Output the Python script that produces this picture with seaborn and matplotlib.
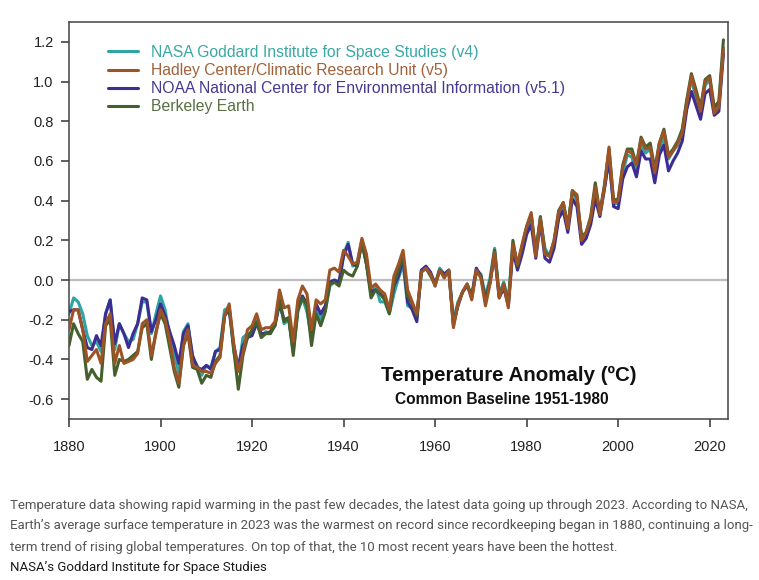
import numpy as np
import pandas as pd
import matplotlib
matplotlib.use("Agg")
import matplotlib.pyplot as plt
import seaborn as sns

years = list(range(1880, 2024))

nasa = [
    -0.17, -0.09, -0.11, -0.17, -0.28, -0.33, -0.31, -0.36, -0.17, -0.10,
    -0.35, -0.22, -0.27, -0.31, -0.30, -0.22, -0.11, -0.11, -0.27, -0.17,
    -0.08, -0.15, -0.28, -0.37, -0.47, -0.26, -0.22, -0.39, -0.43, -0.48,
    -0.43, -0.44, -0.36, -0.34, -0.15, -0.14, -0.36, -0.46, -0.29, -0.27,
    -0.27, -0.19, -0.28, -0.26, -0.27, -0.22, -0.10, -0.22, -0.20, -0.36,
    -0.16, -0.09, -0.16, -0.29, -0.13, -0.20, -0.15, -0.03, -0.01, -0.02,
    0.13, 0.19, 0.07, 0.09, 0.20, 0.09, -0.07, -0.03, -0.11, -0.11,
    -0.17, -0.07, 0.01, 0.08, -0.13, -0.14, -0.19, 0.05, 0.06, 0.03,
    -0.03, 0.06, 0.03, 0.05, -0.20, -0.11, -0.06, -0.02, -0.08, 0.05,
    0.03, -0.08, 0.01, 0.16, -0.07, -0.01, -0.10, 0.18, 0.07, 0.16,
    0.26, 0.32, 0.14, 0.31, 0.16, 0.12, 0.18, 0.32, 0.39, 0.27,
    0.45, 0.40, 0.22, 0.23, 0.31, 0.45, 0.33, 0.46, 0.61, 0.38,
    0.39, 0.54, 0.63, 0.62, 0.53, 0.68, 0.64, 0.66, 0.54, 0.65,
    0.72, 0.61, 0.65, 0.68, 0.75, 0.90, 1.01, 0.92, 0.85, 0.98,
    1.01, 0.85, 0.89, 1.17,
]

noaa = [
    -0.16, -0.15, -0.15, -0.25, -0.34, -0.35, -0.28, -0.33, -0.17, -0.10,
    -0.32, -0.22, -0.27, -0.34, -0.27, -0.22, -0.09, -0.10, -0.26, -0.20,
    -0.12, -0.18, -0.26, -0.33, -0.42, -0.27, -0.23, -0.38, -0.44, -0.45,
    -0.43, -0.45, -0.36, -0.35, -0.18, -0.15, -0.33, -0.44, -0.33, -0.29,
    -0.28, -0.22, -0.27, -0.27, -0.26, -0.23, -0.12, -0.20, -0.19, -0.34,
    -0.14, -0.08, -0.12, -0.27, -0.12, -0.17, -0.13, -0.01, 0.00, -0.01,
    0.12, 0.18, 0.08, 0.07, 0.19, 0.08, -0.06, -0.05, -0.07, -0.09,
    -0.16, -0.03, 0.02, 0.11, -0.11, -0.15, -0.21, 0.05, 0.07, 0.04,
    -0.02, 0.05, 0.03, 0.05, -0.22, -0.13, -0.06, -0.03, -0.08, 0.06,
    0.02, -0.10, -0.01, 0.13, -0.09, -0.04, -0.13, 0.15, 0.05, 0.13,
    0.23, 0.28, 0.11, 0.29, 0.11, 0.09, 0.16, 0.31, 0.35, 0.24,
    0.41, 0.37, 0.18, 0.21, 0.28, 0.41, 0.32, 0.46, 0.61, 0.37,
    0.36, 0.51, 0.57, 0.59, 0.52, 0.65, 0.61, 0.61, 0.49, 0.63,
    0.68, 0.55, 0.60, 0.64, 0.70, 0.86, 0.95, 0.88, 0.81, 0.94,
    0.96, 0.83, 0.85, 1.14,
]

hadley = [
    -0.25, -0.15, -0.15, -0.25, -0.41, -0.38, -0.35, -0.42, -0.22, -0.17,
    -0.42, -0.33, -0.42, -0.41, -0.40, -0.37, -0.22, -0.20, -0.38, -0.27,
    -0.15, -0.20, -0.30, -0.44, -0.52, -0.33, -0.25, -0.43, -0.44, -0.46,
    -0.46, -0.47, -0.42, -0.39, -0.18, -0.12, -0.32, -0.46, -0.37, -0.25,
    -0.23, -0.17, -0.25, -0.24, -0.24, -0.21, -0.05, -0.14, -0.13, -0.31,
    -0.10, -0.03, -0.07, -0.25, -0.10, -0.12, -0.10, 0.05, 0.06, 0.04,
    0.15, 0.12, 0.08, 0.09, 0.21, 0.13, -0.04, -0.02, -0.05, -0.07,
    -0.15, 0.02, 0.08, 0.15, -0.05, -0.11, -0.17, 0.04, 0.06, 0.03,
    -0.03, 0.05, 0.01, 0.05, -0.24, -0.12, -0.06, -0.02, -0.10, 0.05,
    0.01, -0.13, -0.02, 0.14, -0.09, -0.02, -0.14, 0.18, 0.08, 0.18,
    0.27, 0.34, 0.12, 0.31, 0.13, 0.12, 0.20, 0.34, 0.39, 0.26,
    0.45, 0.43, 0.20, 0.24, 0.31, 0.47, 0.33, 0.47, 0.67, 0.39,
    0.40, 0.57, 0.65, 0.64, 0.58, 0.71, 0.66, 0.67, 0.54, 0.69,
    0.75, 0.62, 0.65, 0.69, 0.74, 0.89, 1.03, 0.94, 0.85, 1.00,
    1.02, 0.84, 0.87, 1.16,
]

berkeley = [
    -0.33, -0.22, -0.27, -0.31, -0.50, -0.45, -0.49, -0.51, -0.23, -0.20,
    -0.48, -0.40, -0.41, -0.40, -0.38, -0.36, -0.24, -0.22, -0.40, -0.26,
    -0.17, -0.22, -0.34, -0.46, -0.54, -0.33, -0.27, -0.44, -0.45, -0.52,
    -0.48, -0.49, -0.41, -0.38, -0.18, -0.13, -0.35, -0.55, -0.38, -0.29,
    -0.25, -0.21, -0.29, -0.27, -0.27, -0.23, -0.10, -0.21, -0.19, -0.38,
    -0.15, -0.09, -0.13, -0.33, -0.17, -0.23, -0.16, -0.02, -0.01, -0.03,
    0.05, 0.03, 0.02, 0.07, 0.19, 0.08, -0.09, -0.05, -0.07, -0.10,
    -0.17, -0.02, 0.05, 0.12, -0.08, -0.12, -0.18, 0.04, 0.06, 0.02,
    -0.02, 0.05, 0.02, 0.04, -0.23, -0.12, -0.06, -0.02, -0.09, 0.04,
    0.02, -0.11, -0.01, 0.15, -0.08, -0.02, -0.13, 0.20, 0.07, 0.17,
    0.27, 0.33, 0.14, 0.32, 0.14, 0.12, 0.20, 0.35, 0.39, 0.27,
    0.45, 0.42, 0.22, 0.24, 0.32, 0.49, 0.34, 0.48, 0.66, 0.40,
    0.41, 0.58, 0.66, 0.66, 0.58, 0.72, 0.67, 0.69, 0.56, 0.69,
    0.76, 0.63, 0.66, 0.70, 0.76, 0.91, 1.04, 0.96, 0.87, 1.01,
    1.03, 0.87, 0.90, 1.21,
]

labels = [
    "NASA Goddard Institute for Space Studies (v4)",
    "Hadley Center/Climatic Research Unit (v5)",
    "NOAA National Center for Environmental Information (v5.1)",
    "Berkeley Earth",
]
series = [nasa, hadley, noaa, berkeley]
colors = ["#2fa5a3", "#9c5426", "#3c2c93", "#44602c"]
text_colors = ["#3aa8a6", "#a0623a", "#46398f", "#587043"]
draw_order = [0, 2, 3, 1]

x_ticks = [1880, 1900, 1920, 1940, 1960, 1980, 2000, 2020]
y_ticks = [-0.6, -0.4, -0.2, 0.0, 0.2, 0.4, 0.6, 0.8, 1.0, 1.2]

sns.set_style("white")
plt.rcParams["font.family"] = ["Liberation Sans", "DejaVu Sans"]

fig = plt.figure(figsize=(7.59, 5.80), dpi=100)
ax = fig.add_axes([69 / 759, 1 - 419 / 580, (728 - 69) / 759, (419 - 22) / 580])

ax.axhline(0, color="#bdbdbd", lw=1.6, zorder=1)

for i in draw_order:
    df = pd.DataFrame({"year": years, "anom": series[i]})
    sns.lineplot(data=df, x="year", y="anom", ax=ax, color=colors[i],
                 lw=2.2, label=labels[i], zorder=2 + draw_order.index(i))

hl = {l.get_label(): l for l in ax.get_lines() if l.get_label() in labels}
leg = ax.legend([hl[l] for l in labels], labels, loc="upper left",
                bbox_to_anchor=(0.05, 0.958), frameon=False, fontsize=11.3,
                handlelength=1.9, handletextpad=0.85, labelspacing=0.2,
                borderaxespad=0)
for t, c in zip(leg.get_texts(), text_colors):
    t.set_color(c)

ax.set_xlim(1880, 2024)
ax.set_ylim(-0.70, 1.30)
ax.set_xticks(x_ticks)
ax.set_yticks(y_ticks)
ax.set_xticklabels([str(v) for v in x_ticks])
ax.set_yticklabels([f"{v:.1f}" for v in y_ticks])
ax.set_xlabel("")
ax.set_ylabel("")
ax.tick_params(axis="both", which="both", direction="out", length=6,
               width=1.1, color="#333333", labelsize=10.5,
               labelcolor="#222222", pad=5, left=True, bottom=True)
ax.tick_params(axis="x", pad=9)
for s in ax.spines.values():
    s.set_color("#444444")
    s.set_linewidth(1.1)

ax.text(0.668, 0.11, "Temperature Anomaly (ºC)", transform=ax.transAxes,
        ha="center", va="center", fontsize=14.8, fontweight="bold",
        color="#111111")
ax.text(0.657, 0.05, "Common Baseline 1951-1980", transform=ax.transAxes,
        ha="center", va="center", fontsize=11.2, fontweight="bold",
        color="#111111")

cap_font = ["Liberation Sans Narrow", "Roboto", "DejaVu Sans"]
cap_lines = [
    "Temperature data showing rapid warming in the past few decades, the latest data going up through 2023. According to NASA,",
    "Earth\u2019s average surface temperature in 2023 was the warmest on record since recordkeeping began in 1880, continuing a long-",
    "term trend of rising global temperatures. On top of that, the 10 most recent years have been the hottest.",
]
for k, line in enumerate(cap_lines):
    fig.text(10 / 759, 1 - (505 + 21 * k) / 580, line, family=cap_font,
             fontsize=9.5, color="#555555", va="center", ha="left")
fig.text(10 / 759, 1 - 567 / 580, "NASA\u2019s Goddard Institute for Space Studies",
         family=cap_font, fontsize=9.5, color="#1a1a1a", va="center", ha="left")

fig.savefig("out.png", dpi=100, facecolor="white")
